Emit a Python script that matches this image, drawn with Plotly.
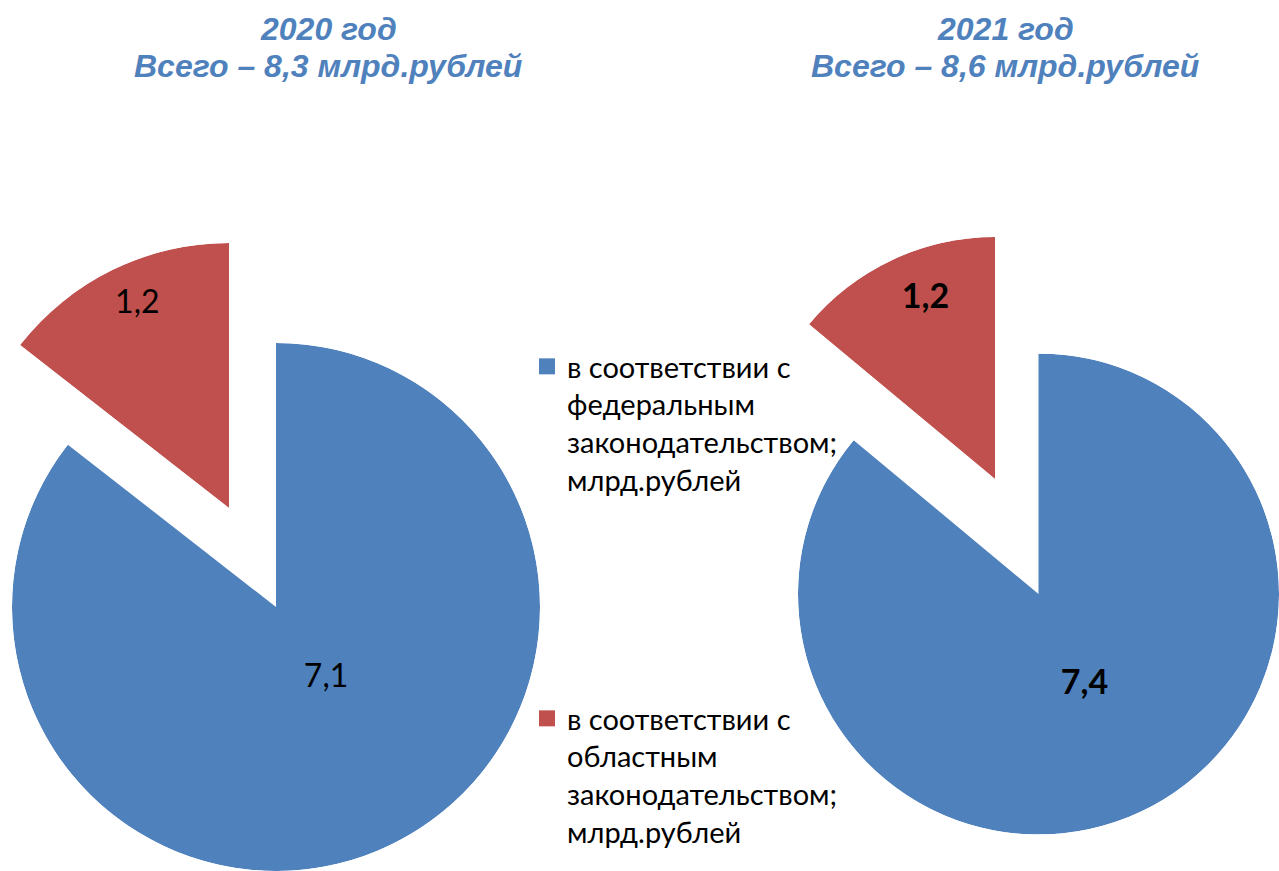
import numpy as np
import plotly.graph_objects as go

# ---------------- data ----------------
years = ["2020 год", "2021 год"]
totals = [8.3, 8.6]
federal = [7.1, 7.4]     # в соответствии с федеральным законодательством
regional = [1.2, 1.2]    # в соответствии с областным законодательством
categories = [
    "в соответствии с<br>федеральным<br>законодательством;<br>млрд.рублей",
    "в соответствии с<br>областным<br>законодательством;<br>млрд.рублей",
]

# ---------------- style / layout ----------------
W, H = 1279, 871
BLUE, RED, TITLE_C = "#4F81BD", "#C0504D", "#4F81BD"
FONT = "Lato, 'Open Sans', sans-serif"
TITLE_FONT = "'Liberation Sans', Arial, sans-serif"
# positions below are in page (screen) pixels
blue_center = [(276, 607), (1038.5, 594)]
blue_radius = [264, 240.5]
red_apex = [(229, 508), (995, 479)]
red_radius = [265, 242]
title_x = [328, 1005]
title_line_y = [29, 65.5]
label_bold = [False, True]
label_size = [32, 34]
blue_lab_r, blue_lab_dt = [0.332, 0.424], [-8.8, -1.7]
red_lab_r, red_lab_dt = [0.84, 0.797], [1.7, 4.0]
legend_x = 527
legend_y = [341, 693]


def fmt(v):
    return f"{v:.1f}".replace(".", ",")


def px(sx):
    return sx / W


def py(sy):
    return 1 - sy / H


def clip01(a, b):
    return [max(0.0, min(1.0, a)), max(0.0, min(1.0, b))]


fig = go.Figure()
layout_polars = {}
annotations = []
pid = 0
for i in range(2):
    tot = federal[i] + regional[i]
    span_b = 360.0 * federal[i] / tot
    span_r = 360.0 * regional[i] / tot
    bold = label_bold[i]
    lab_font = dict(family=FONT, size=label_size[i], color="black")

    # ---- blue (federal) slice
    pid += 1
    name = "polar" if pid == 1 else f"polar{pid}"
    cx, cy = blue_center[i]
    r = blue_radius[i]
    layout_polars[name] = dict(
        domain=dict(x=clip01(px(cx - r), px(cx + r)),
                    y=clip01(py(cy + r), py(cy - r))),
        bgcolor="rgba(0,0,0,0)", bargap=0, hole=0,
        radialaxis=dict(visible=False, range=[0, 1], autorange=False),
        angularaxis=dict(visible=False, direction="clockwise", rotation=90),
    )
    fig.add_trace(go.Barpolar(
        r=[1], theta=[span_b / 2], width=[span_b], base=0,
        marker=dict(color=BLUE, line=dict(width=0)),
        subplot=name, showlegend=False, hoverinfo="skip"))
    txt = fmt(federal[i])
    fig.add_trace(go.Scatterpolar(
        r=[blue_lab_r[i]], theta=[span_b / 2 + blue_lab_dt[i]], mode="text",
        text=[f"<b>{txt}</b>" if bold else txt], textfont=lab_font,
        textposition="middle center", cliponaxis=False,
        subplot=name, showlegend=False, hoverinfo="skip"))
    if i == 0:
        fig.add_trace(go.Scatterpolar(
            r=[None], theta=[None], mode="markers", name=categories[0],
            marker=dict(symbol="square", size=16, color=BLUE),
            subplot=name, legend="legend", hoverinfo="skip"))
        fig.add_trace(go.Scatterpolar(
            r=[None], theta=[None], mode="markers", name=categories[1],
            marker=dict(symbol="square", size=16, color=RED),
            subplot=name, legend="legend2", hoverinfo="skip"))

    # ---- red (regional) slice: exploded, drawn in its own sector
    pid += 1
    name = f"polar{pid}"
    ax_, ay_ = red_apex[i]
    rr = red_radius[i]
    x0 = np.cos(np.deg2rad(90 + span_r))  # left extent of sector bbox
    layout_polars[name] = dict(
        domain=dict(x=clip01(px(ax_ + rr * x0), px(ax_)),
                    y=clip01(py(ay_), py(ay_ - rr))),
        sector=[90, 90 + span_r],
        bgcolor="rgba(0,0,0,0)", bargap=0, hole=0,
        radialaxis=dict(visible=False, range=[0, 1], autorange=False),
        angularaxis=dict(visible=False, direction="clockwise", rotation=90),
    )
    fig.add_trace(go.Barpolar(
        r=[1], theta=[360 - span_r / 2], width=[span_r], base=0,
        marker=dict(color=RED, line=dict(width=0)),
        subplot=name, showlegend=False, hoverinfo="skip"))
    txt = fmt(regional[i])
    fig.add_trace(go.Scatterpolar(
        r=[red_lab_r[i]], theta=[360 - span_r / 2 + red_lab_dt[i]], mode="text",
        text=[f"<b>{txt}</b>" if bold else txt], textfont=lab_font,
        textposition="middle center", cliponaxis=False,
        subplot=name, showlegend=False, hoverinfo="skip"))

    # ---- title (two lines)
    title_lines = [years[i], f"Всего – {fmt(totals[i])} млрд.рублей"]
    for line, ly in zip(title_lines, title_line_y):
        annotations.append(dict(
            x=px(title_x[i]), y=py(ly), xref="paper", yref="paper",
            xanchor="center", yanchor="middle", showarrow=False,
            text=f"<b><i>{line}</i></b>",
            font=dict(family=TITLE_FONT, size=32, color=TITLE_C)))

legend_common = dict(xanchor="left", yanchor="top", bgcolor="rgba(0,0,0,0)",
                     valign="top", itemclick=False, itemdoubleclick=False,
                     font=dict(family=FONT, size=29, color="black"))

fig.update_layout(
    width=W, height=H, margin=dict(l=0, r=0, t=0, b=0),
    paper_bgcolor="white", plot_bgcolor="white",
    annotations=annotations,
    legend=dict(x=px(legend_x), y=py(legend_y[0]), **legend_common),
    legend2=dict(x=px(legend_x), y=py(legend_y[1]), **legend_common),
    **layout_polars,
)

fig.write_html("out.html", config={"displayModeBar": False},
               post_script="document.body.style.margin='0px';")
